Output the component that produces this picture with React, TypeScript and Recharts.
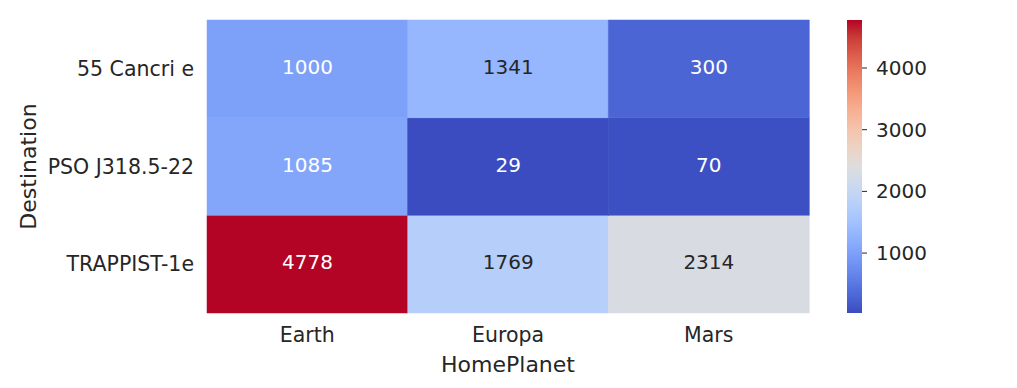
import { BarChart, Bar, XAxis, YAxis, Cell, LabelList } from 'recharts';

const planets = ['Earth', 'Europa', 'Mars'];
const destinations = ['55 Cancri e', 'PSO J318.5-22', 'TRAPPIST-1e'];
const cancri = [1000, 1341, 300];
const pso = [1085, 29, 70];
const trappist = [4778, 1769, 2314];
const colorbarTicks = [1000, 2000, 3000, 4000];

// rows from top to bottom, same order as destinations
const counts = [cancri, pso, trappist];
const allValues = counts.flat();
const vmin = Math.min(...allValues);
const vmax = Math.max(...allValues);

// matplotlib coolwarm, sampled every 1/16
const cwR = [0.2298, 0.3039, 0.383, 0.4667, 0.553, 0.6392, 0.7222, 0.7987, 0.8654, 0.9241, 0.9589, 0.97, 0.958, 0.9239, 0.8692, 0.7956, 0.7057];
const cwG = [0.2987, 0.4065, 0.5094, 0.6046, 0.6889, 0.7596, 0.814, 0.8498, 0.8654, 0.8274, 0.7698, 0.6943, 0.6028, 0.4973, 0.3783, 0.2413, 0.0156];
const cwB = [0.7537, 0.845, 0.9174, 0.9682, 0.9954, 0.9982, 0.9766, 0.9317, 0.8654, 0.7745, 0.678, 0.5794, 0.4818, 0.388, 0.3003, 0.2205, 0.1502];

const coolwarmRgb = (t: number) => {
  const p = Math.max(0, Math.min(1, t)) * 16;
  const i = Math.min(15, Math.floor(p));
  const f = p - i;
  const lerp = (a: number[]) => a[i] + (a[i + 1] - a[i]) * f;
  return [lerp(cwR), lerp(cwG), lerp(cwB)];
};

const toHex = (rgb: number[]) =>
  '#' + rgb.map((c) => Math.round(c * 255).toString(16).padStart(2, '0')).join('');

const colorFor = (v: number) => toHex(coolwarmRgb((v - vmin) / (vmax - vmin)));

const textColorFor = (v: number) => {
  const lin = coolwarmRgb((v - vmin) / (vmax - vmin)).map((c) =>
    c <= 0.03928 ? c / 12.92 : Math.pow((c + 0.055) / 1.055, 2.4)
  );
  const lum = 0.2126 * lin[0] + 0.7152 * lin[1] + 0.0722 * lin[2];
  return lum > 0.408 ? '#262626' : '#ffffff';
};

const table = planets.map((planet, i) => {
  const row: Record<string, string | number> = { planet };
  destinations.forEach((_, j) => {
    row['cell' + j] = 1;
    row['count' + j] = counts[j][i];
  });
  return row;
});

const colorbarData = [{ name: 'count', range: [vmin, vmax] }];

const font = 'DejaVu Sans';
const ink = '#262626';

const CellLabel = (props: any) => {
  const { x, y, width, height, value } = props;
  return (
    <text
      x={x + width / 2}
      y={y + height / 2 + 5}
      textAnchor="middle"
      fontSize={20}
      fontFamily={font}
      fill={textColorFor(value)}
    >
      {value}
    </text>
  );
};

const App = () => {
  return (
    <div style={{ position: 'relative', width: 1009, height: 380, fontFamily: font }}>
      <div style={{ position: 'absolute', left: 0, top: 0 }}>
        <BarChart
          width={810}
          height={380}
          data={table}
          margin={{ top: 12, right: 9, left: 0, bottom: 16 }}
          barCategoryGap={0}
          barGap={0}
        >
          <XAxis
            dataKey="planet"
            axisLine={false}
            tickLine={false}
            tickSize={0}
            tickMargin={14}
            height={59}
            tick={{ fontSize: 20.5, fill: ink, fontFamily: font }}
            label={{ value: 'HomePlanet', position: 'insideBottom', offset: 0, fontSize: 22, fill: ink, fontFamily: font }}
          />
          <YAxis
            type="number"
            domain={[0, destinations.length]}
            ticks={destinations.map((_, j) => j + 0.5)}
            tickFormatter={(v: number) => destinations[destinations.length - 1 - Math.floor(v)]}
            axisLine={false}
            tickLine={false}
            tickSize={0}
            tickMargin={13}
            width={199}
            tick={{ fontSize: 20.5, fill: ink, fontFamily: font }}
            label={{
              value: 'Destination',
              angle: -90,
              position: 'insideLeft',
              offset: 20,
              fontSize: 22,
              fill: ink,
              fontFamily: font,
              style: { textAnchor: 'middle' },
            }}
          />
          {[2, 1, 0].map((j) => (
            <Bar key={j} dataKey={'cell' + j} stackId="heat" isAnimationActive={false}>
              {table.map((row, i) => {
                const c = colorFor(row['count' + j] as number);
                return <Cell key={i} fill={c} stroke={c} strokeWidth={0.5} />;
              })}
              <LabelList dataKey={'count' + j} content={CellLabel} />
            </Bar>
          ))}
        </BarChart>
      </div>
      <div style={{ position: 'absolute', left: 839, top: 0 }}>
        <BarChart
          width={100}
          height={380}
          data={colorbarData}
          margin={{ top: 12, right: 0, left: 0, bottom: 75 }}
          barCategoryGap={0}
        >
          <defs>
            <linearGradient id="cbGrad" x1="0" y1="0" x2="0" y2="1">
              {cwR.map((_, k) => {
                const t = 1 - k / 16;
                return <stop key={k} offset={k / 16} stopColor={toHex(coolwarmRgb(t))} />;
              })}
            </linearGradient>
          </defs>
          <XAxis dataKey="name" hide />
          <YAxis
            type="number"
            orientation="right"
            domain={[vmin, vmax]}
            ticks={colorbarTicks}
            axisLine={false}
            tickLine={{ stroke: ink, strokeWidth: 1 }}
            tickSize={5}
            tickMargin={9}
            width={85}
            tick={{ fontSize: 20, fill: ink, fontFamily: font }}
          />
          <Bar dataKey="range" fill="url(#cbGrad)" isAnimationActive={false} />
        </BarChart>
      </div>
    </div>
  );
};

export default App;
